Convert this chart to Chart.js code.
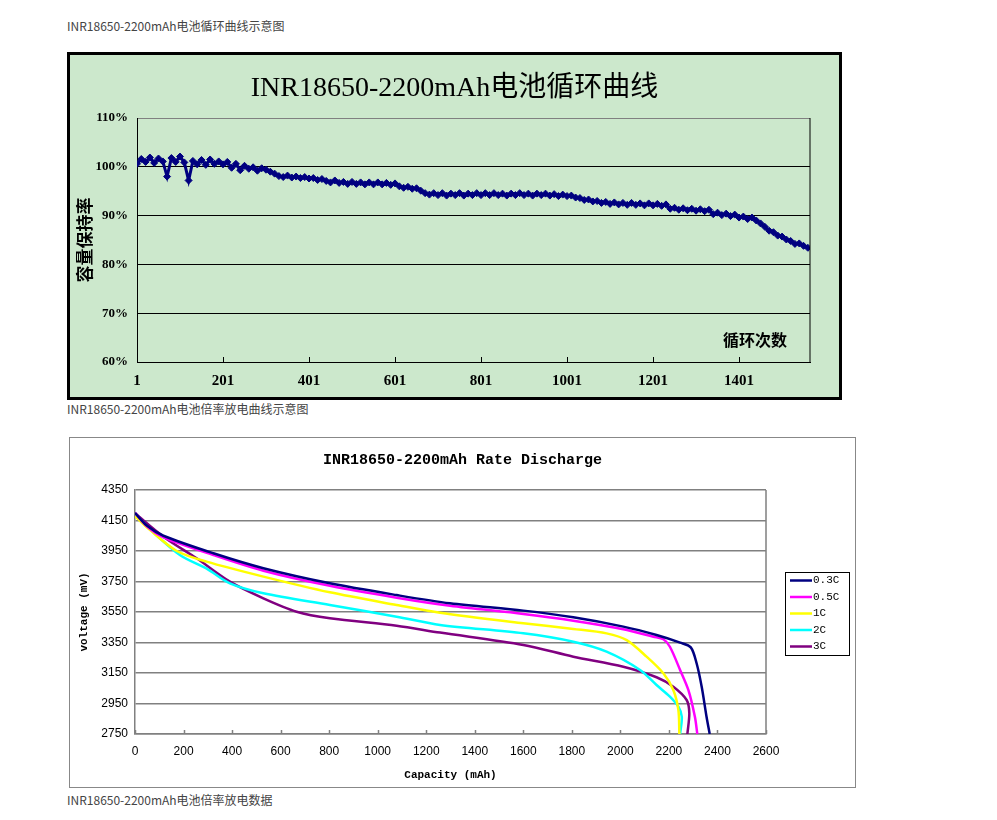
<!DOCTYPE html>
<html>
<head>
<meta charset="utf-8">
<script src="https://cdn.jsdelivr.net/npm/chart.js@4.4.0/dist/chart.umd.min.js"></script>
<style>
body { margin: 0; background: #fff; width: 997px; height: 820px; position: relative; overflow: hidden;
       font-family: "Noto Sans CJK SC", sans-serif; }
.caption { position: absolute; left: 67px; font-size: 12px; color: #444; line-height: 16px; white-space: nowrap; }
#box1 { position: absolute; left: 67px; top: 52px; width: 769px; height: 342px; border: 3px solid #000; background: #cce8cc; }
#box2 { position: absolute; left: 69px; top: 437px; width: 785px; height: 349px; border: 1px solid #888; background: #fff; }
.wrap { position: relative; width: 100%; height: 100%; }
canvas { display: block; }
</style>
</head>
<body>
<div class="caption" style="top:18px">INR18650-2200mAh电池循环曲线示意图</div>
<div id="box1"><div class="wrap"><canvas id="cycleChart"></canvas></div></div>
<div class="caption" style="top:401px">INR18650-2200mAh电池倍率放电曲线示意图</div>
<div id="box2"><div class="wrap"><canvas id="rateChart"></canvas></div></div>
<div class="caption" style="top:792px">INR18650-2200mAh电池倍率放电数据</div>

<script>
// ─── Cycle life data (one reading every 10 cycles, starting at cycle 1) ───
const cycleStep = 10;
const cycleMax = 1566;
const cycleTicks = [1, 201, 401, 601, 801, 1001, 1201, 1401];
const retention = [
    100.6, 101.6, 101.0, 101.9, 100.8, 101.7, 101.1, 98.0, 101.8, 101.0,
    102.1, 100.9, 97.2, 101.2, 100.5, 101.4, 100.4, 101.5, 100.6, 101.1,
    100.5, 101.0, 99.8, 100.6, 99.3, 100.2, 99.6, 99.9, 99.2, 99.7,
    99.4, 99.0, 98.6, 98.1, 97.9, 98.2, 97.8, 98.0, 97.7, 97.9,
    97.6, 97.7, 97.3, 97.5, 97.1, 96.8, 97.2, 96.7, 96.9, 96.5,
    96.9, 96.5, 96.8, 96.4, 96.8, 96.4, 96.8, 96.4, 96.7, 96.3,
    96.6, 96.0, 95.7, 95.9, 95.5, 95.6, 95.1, 94.6, 94.3, 94.6,
    94.2, 94.6, 94.1, 94.5, 94.2, 94.6, 94.1, 94.5, 94.2, 94.6,
    94.2, 94.6, 94.2, 94.6, 94.2, 94.5, 94.1, 94.5, 94.2, 94.6,
    94.2, 94.5, 94.1, 94.5, 94.2, 94.5, 94.1, 94.4, 94.0, 94.3,
    94.0, 94.1, 93.7, 93.6, 93.2, 93.3, 92.9, 93.0, 92.6, 92.8,
    92.4, 92.7, 92.3, 92.6, 92.2, 92.6, 92.2, 92.5, 92.1, 92.5,
    92.1, 92.4, 92.0, 92.3, 91.4, 91.6, 91.2, 91.5, 91.1, 91.4,
    91.0, 91.3, 90.9, 91.2, 90.3, 90.6, 90.1, 90.4, 89.9, 90.2,
    89.6, 89.8, 89.3, 89.6, 89.0, 88.4, 87.7, 86.9, 86.6, 85.9,
    85.7, 85.1, 84.8, 84.2, 84.3, 83.8, 83.4
];

// ─── Rate discharge data (capacity mAh / voltage mV) ───
const rateLabels = ['0.3C', '0.5C', '1C', '2C', '3C'];
const rateColors = ['#000080', '#ff00ff', '#ffff00', '#00ffff', '#800080'];
const cap03 = [0, 50, 117, 323, 529, 803, 1078, 1298, 1600, 1806, 2012, 2149, 2246, 2290, 2314, 2335, 2355, 2368];
const volt03 = [4200, 4115, 4050, 3935, 3837, 3738, 3661, 3607, 3559, 3515, 3454, 3399, 3349, 3318, 3214, 3060, 2863, 2750];
const cap05 = [0, 50, 117, 323, 529, 803, 1078, 1298, 1600, 1806, 2012, 2136, 2177, 2204, 2246, 2280, 2307, 2317];
const volt05 = [4200, 4110, 4040, 3924, 3821, 3722, 3644, 3591, 3537, 3493, 3437, 3388, 3371, 3322, 3170, 3039, 2863, 2750];
const cap1 = [0, 60, 172, 295, 529, 803, 1078, 1257, 1600, 1806, 1943, 2026, 2108, 2177, 2218, 2239, 2243];
const volt1 = [4180, 4090, 3950, 3880, 3782, 3679, 3596, 3545, 3476, 3439, 3410, 3366, 3257, 3148, 3039, 2907, 2750];
const cap2 = [0, 60, 185, 300, 391, 529, 803, 1078, 1257, 1600, 1806, 1943, 2081, 2149, 2204, 2239, 2253, 2246];
const volt2 = [4190, 4095, 3924, 3830, 3738, 3673, 3596, 3519, 3465, 3410, 3355, 3290, 3170, 3071, 2995, 2929, 2863, 2750];
const cap3 = [0, 117, 254, 391, 529, 666, 803, 1078, 1257, 1600, 1806, 2012, 2149, 2218, 2273, 2284, 2276];
const volt3 = [4197, 4044, 3902, 3749, 3640, 3552, 3509, 3460, 3415, 3334, 3257, 3191, 3122, 3060, 2973, 2886, 2750];

const rateCaps = [cap03, cap05, cap1, cap2, cap3];
const rateVolts = [volt03, volt05, volt1, volt2, volt3];

const SERIF = '"Liberation Serif", "Noto Sans CJK SC", serif';
const MONO = '"Liberation Mono", "Noto Sans CJK SC", monospace';
const plain = v => String(v); // no thousands separators

// small tick marks pointing up into the plot, plus the right border
function insideTicks(len, color, width) {
    return {
        id: 'insideTicks',
        afterDraw(chart) {
            const { ctx, chartArea, scales } = chart;
            ctx.save();
            ctx.strokeStyle = color;
            ctx.lineWidth = width;
            ctx.beginPath();
            scales.x.ticks.forEach(t => {
                const px = Math.round(scales.x.getPixelForValue(t.value)) + 0.5;
                ctx.moveTo(px, chartArea.bottom);
                ctx.lineTo(px, chartArea.bottom - len);
            });
            ctx.moveTo(chartArea.right, chartArea.top);
            ctx.lineTo(chartArea.right, chartArea.bottom);
            ctx.stroke();
            ctx.restore();
        }
    };
}

// title centred on the whole canvas (the built-in one follows layout padding)
function canvasTitle(text, font, y) {
    return {
        id: 'canvasTitle',
        afterDraw(chart) {
            const { ctx } = chart;
            ctx.save();
            ctx.fillStyle = '#000';
            ctx.font = font;
            ctx.textAlign = 'center';
            ctx.textBaseline = 'middle';
            ctx.fillText(text, chart.width / 2, y);
            ctx.restore();
        }
    };
}

// ─── Chart 1: cycle curve ───
const cycleLabelPlugin = {
    id: 'cycleLabel',
    afterDraw(chart) {
        const { ctx, scales } = chart;
        ctx.save();
        ctx.fillStyle = '#000';
        ctx.font = 'bold 16px "Noto Sans CJK SC", sans-serif';
        ctx.textAlign = 'center';
        ctx.textBaseline = 'middle';
        ctx.fillText('循环次数', scales.x.getPixelForValue(1438), scales.y.getPixelForValue(64.6));
        ctx.restore();
    }
};

new Chart(document.getElementById('cycleChart'), {
    type: 'line',
    data: {
        datasets: [{
            label: '容量保持率',
            data: retention.map((v, i) => ({ x: 1 + i * cycleStep, y: v })),
            borderColor: '#000080',
            backgroundColor: '#000080',
            borderWidth: 3,
            pointStyle: 'rectRot',
            pointRadius: 3.5,
            pointBorderWidth: 1,
            tension: 0,
        }],
    },
    options: {
        responsive: true,
        maintainAspectRatio: false,
        animation: false,
        layout: { padding: { left: 0, right: 29, top: 63, bottom: 0 } },
        plugins: {
            legend: { display: false },
            tooltip: { enabled: false },
            title: { display: false },
        },
        scales: {
            x: {
                type: 'linear',
                min: 1,
                max: cycleMax,
                afterBuildTicks: s => { s.ticks = cycleTicks.map(v => ({ value: v })); },
                afterFit: s => { s.height = 35; },
                grid: { display: false },
                border: { color: '#000', width: 1 },
                ticks: { color: '#000', padding: 2, callback: plain, font: { family: SERIF, size: 15, weight: 'bold' } },
            },
            y: {
                min: 60,
                max: 110,
                ticks: {
                    stepSize: 10,
                    color: '#000',
                    padding: 9,
                    font: { family: SERIF, size: 13, weight: 'bold' },
                    callback: v => v + '%',
                },
                grid: {
                    color: c => (c.tick && c.tick.value === 110) ? '#808080' : '#000',
                    drawTicks: false,
                },
                border: { color: '#000', width: 1 },
                afterFit: s => { s.width = 67; },
                title: {
                    display: true,
                    text: '容量保持率',
                    color: '#000',
                    font: { family: '"Noto Sans CJK SC", sans-serif', size: 17, weight: 'bold' },
                    padding: { top: 4, bottom: 0 },
                },
            },
        },
    },
    plugins: [
        insideTicks(5, '#000', 1),
        cycleLabelPlugin,
        canvasTitle('INR18650-2200mAh电池循环曲线', '28px ' + SERIF, 34),
    ],
});

// ─── Chart 2: rate discharge ───
const rateLegendPlugin = {
    id: 'rateLegend',
    afterDraw(chart) {
        const { ctx, chartArea } = chart;
        const w = 64, h = 83;
        const left = chartArea.right + 19;
        const top = (chartArea.top + chartArea.bottom) / 2 - h / 2 + 1;
        ctx.save();
        ctx.strokeStyle = '#000';
        ctx.lineWidth = 1;
        ctx.strokeRect(Math.round(left) + 0.5, Math.round(top) + 0.5, w, h);
        ctx.font = '11px ' + MONO;
        ctx.textBaseline = 'middle';
        ctx.fillStyle = '#000';
        chart.data.datasets.forEach((ds, i) => {
            const y = top + 9 + i * 16.5;
            ctx.strokeStyle = ds.borderColor;
            ctx.lineWidth = 2.5;
            ctx.beginPath();
            ctx.moveTo(left + 5, y);
            ctx.lineTo(left + 27, y);
            ctx.stroke();
            ctx.fillText(ds.label, left + 28, y);
        });
        ctx.restore();
    }
};

new Chart(document.getElementById('rateChart'), {
    type: 'line',
    data: {
        datasets: rateLabels.map((label, i) => ({
            label,
            data: rateCaps[i].map((c, j) => ({ x: c, y: rateVolts[i][j] })),
            borderColor: rateColors[i],
            backgroundColor: rateColors[i],
            borderWidth: 2.5,
            pointRadius: 0,
            tension: 0.3,
        })),
    },
    options: {
        responsive: true,
        maintainAspectRatio: false,
        animation: false,
        layout: { padding: { left: 0, right: 89, top: 52, bottom: 0 } },
        plugins: {
            legend: { display: false },
            tooltip: { enabled: false },
            title: { display: false },
        },
        scales: {
            x: {
                type: 'linear',
                min: 0,
                max: 2600,
                ticks: { stepSize: 200, color: '#000', padding: 2, callback: plain, font: { family: '"Liberation Sans", sans-serif', size: 12 } },
                grid: { display: false },
                border: { color: '#808080', width: 1.5 },
                afterFit: s => { s.height = 53; },
                title: {
                    display: true,
                    text: 'Capacity (mAh)',
                    color: '#000',
                    font: { family: MONO, size: 11, weight: 'bold' },
                    padding: { top: 0, bottom: 5 },
                },
            },
            y: {
                min: 2750,
                max: 4350,
                ticks: { stepSize: 200, color: '#000', padding: 7, callback: plain, font: { family: '"Liberation Sans", sans-serif', size: 12 } },
                grid: { color: '#808080', lineWidth: 1.5, drawTicks: false },
                border: { color: '#808080', width: 1.5 },
                afterFit: s => { s.width = 65; },
                title: {
                    display: true,
                    text: 'voltage (mV)',
                    color: '#000',
                    font: { family: MONO, size: 11, weight: 'bold' },
                    padding: { top: 8, bottom: 0 },
                },
            },
        },
    },
    plugins: [
        insideTicks(4, '#808080', 1.5),
        rateLegendPlugin,
        canvasTitle('INR18650-2200mAh Rate Discharge', 'bold 15px ' + MONO, 22),
    ],
});
</script>
</body>
</html>
